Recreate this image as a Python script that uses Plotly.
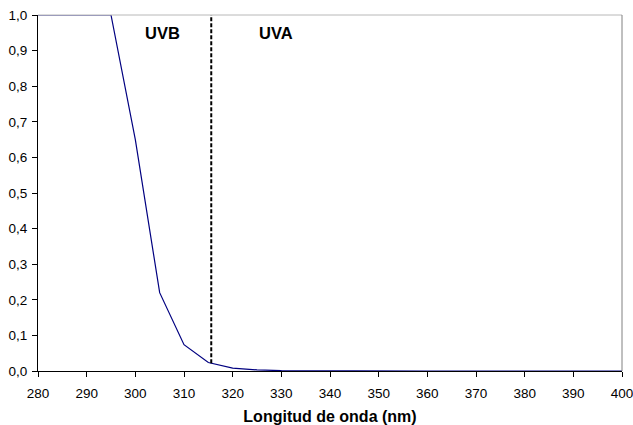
import plotly.graph_objects as go

wavelength = [280, 285, 290, 295, 300, 305, 310, 315, 320, 325, 330, 335, 340, 350, 360, 370, 380, 390, 400]
transmission = [1.0, 1.0, 1.0, 1.0, 0.65, 0.22, 0.074, 0.024, 0.008, 0.003, 0.001, 0.0005, 0.0, 0.0, 0.0, 0.0, 0.0, 0.0, 0.0]
boundary_x = [315.6, 315.6]
boundary_y = [0.022, 1.0]
region_labels = ["UVB", "UVA"]
region_x = [305.5, 329.0]
region_y = [0.95, 0.95]
x_ticks = list(range(280, 401, 10))
y_ticks = [i / 10 for i in range(11)]
y_tick_text = [f"{v:.1f}".replace(".", ",") for v in y_ticks]

fig = go.Figure()
fig.add_trace(go.Scatter(x=wavelength, y=transmission, mode="lines",
                         line=dict(color="#000080", width=1.2), showlegend=False))
fig.add_trace(go.Scatter(x=boundary_x, y=boundary_y, mode="lines",
                         line=dict(color="black", width=2, dash="4px,2px"), showlegend=False))
for t, x, y in zip(region_labels, region_x, region_y):
    fig.add_annotation(x=x, y=y, text=f"<b>{t}</b>", showarrow=False,
                       font=dict(family="Liberation Sans, Arial", size=16.5, color="black"))

fig.update_layout(
    width=633, height=425,
    margin=dict(l=38, r=11, t=15, b=54),
    paper_bgcolor="white", plot_bgcolor="white",
    font=dict(family="Liberation Sans, Arial", size=13.5, color="black"),
    shapes=[dict(type="line", xref="paper", yref="paper", x0=0, x1=1, y0=1, y1=1,
                 line=dict(color="#b8b8b8", width=1)),
            dict(type="line", xref="paper", yref="paper", x0=1, x1=1, y0=0, y1=1,
                 line=dict(color="#808080", width=1))],
)
fig.update_xaxes(range=[280, 400], tickvals=x_ticks, ticks="outside", ticklen=5,
                 tickcolor="black", showline=True, linecolor="black", linewidth=1,
                 showgrid=False, zeroline=False, ticklabelstandoff=5,
                 automargin=False, ticklabeloverflow="allow",
                 title=dict(text="<b>Longitud de onda (nm)</b>", font=dict(size=16), standoff=14))
fig.update_yaxes(range=[0, 1], tickvals=y_ticks, ticktext=y_tick_text, ticks="outside",
                 ticklen=5, tickcolor="black", showline=True, linecolor="black", linewidth=1,
                 showgrid=False, zeroline=False, ticklabelstandoff=2,
                 automargin=False, ticklabeloverflow="allow")

fig.write_html("out.html")
